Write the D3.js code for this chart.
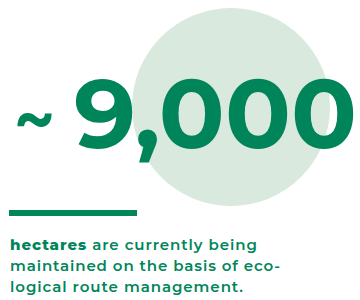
<!DOCTYPE html>
<html>
<head>
<meta charset="utf-8">
<script src="https://cdn.jsdelivr.net/npm/d3@7"></script>
<style>
  body { margin:0; background:#fff; }
  svg { display:block; }
</style>
</head>
<body>
<div id="chart"></div>
<script>
// figure data
let bigValue = [9000];
let valuePrefix = ['~'];
let descLines = [
    [{t:'hectares', b:true}, {t:' are currently being', b:false}],
    [{t:'maintained on the basis of eco-', b:false}],
    [{t:'logical route management.', b:false}]
];
let lineWidths = [247, 270, 233];

let W = 360, H = 300;
let green = '#00855a', pale = '#d9e9dd';
let fnt = 'Montserrat, "Open Sans", Lato, sans-serif';

let svg = d3.select('#chart').append('svg')
    .attr('width', W).attr('height', H);

// background circle
svg.append('circle')
    .attr('cx', 231).attr('cy', 107).attr('r', 99)
    .attr('fill', pale);

// tilde
svg.append('text')
    .attr('x', 14).attr('y', 145)
    .attr('font-family', fnt).attr('font-weight', 700)
    .attr('font-size', 72).attr('fill', green)
    .attr('textLength', 41).attr('lengthAdjust', 'spacingAndGlyphs')
    .text(valuePrefix[0]);

// big number
svg.append('text')
    .attr('x', 74).attr('y', 148)
    .attr('font-family', fnt).attr('font-weight', 700)
    .attr('font-size', 97).attr('fill', green)
    .attr('textLength', 283).attr('lengthAdjust', 'spacingAndGlyphs')
    .text(d3.format(',')(bigValue[0]));

// bar
svg.append('rect')
    .attr('x', 9).attr('y', 210).attr('width', 128).attr('height', 6)
    .attr('fill', green);

// description
let y = d3.scaleLinear().domain([0, 1]).range([250, 271]);
svg.selectAll('text.desc')
    .data(descLines)
    .enter().append('text')
    .attr('class', 'desc')
    .attr('x', 10)
    .attr('y', (d, i) => y(i))
    .attr('font-family', fnt).attr('font-size', 15)
    .attr('font-weight', 600).attr('fill', green)
    .attr('textLength', (d, i) => lineWidths[i]).attr('lengthAdjust', 'spacing')
    .each(function(d) {
        d3.select(this).selectAll('tspan').data(d).enter().append('tspan')
            .attr('font-weight', s => s.b ? 800 : 600)
            .attr('xml:space', 'preserve')
            .style('white-space', 'pre')
            .text(s => s.t);
    });
</script>
</body>
</html>
